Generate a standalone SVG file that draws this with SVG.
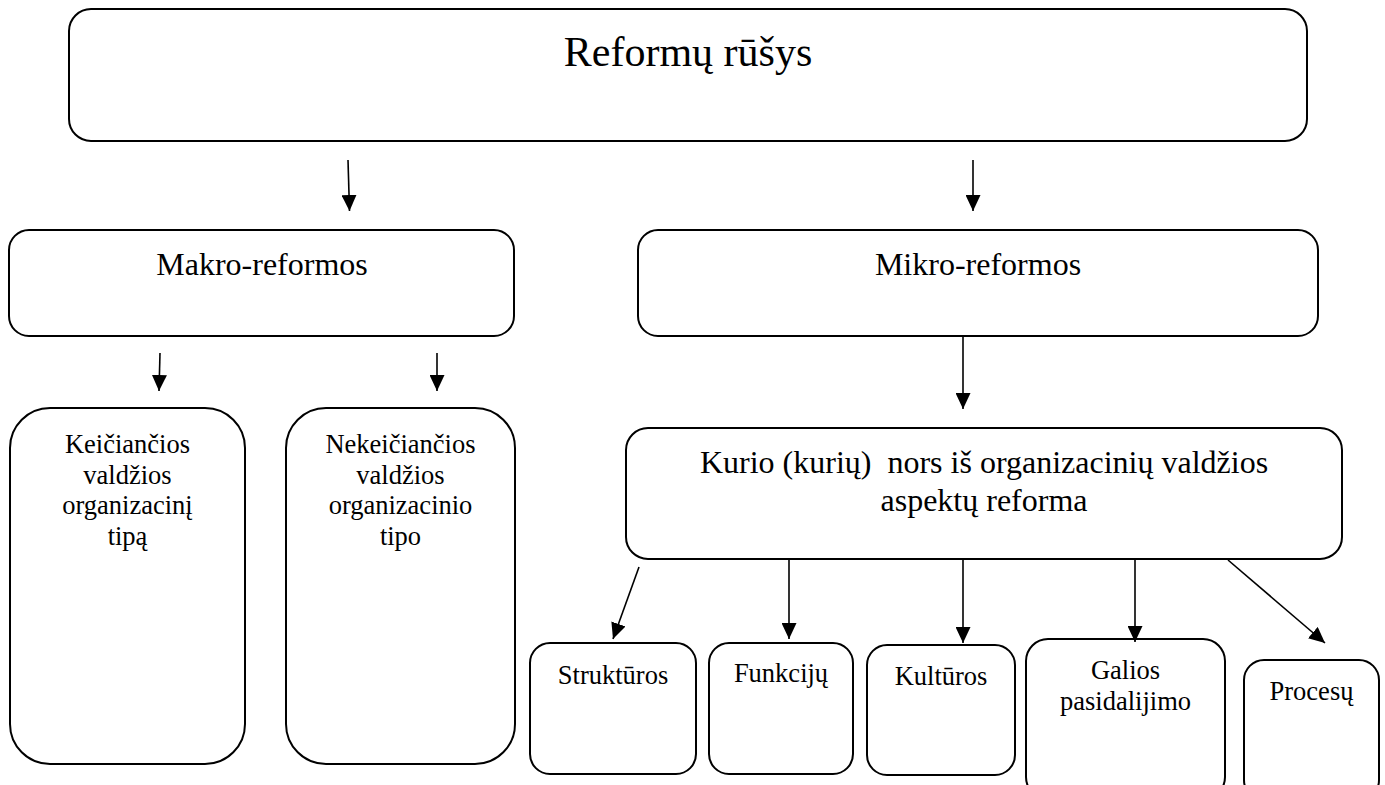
<svg xmlns="http://www.w3.org/2000/svg" width="1385" height="785" viewBox="0 0 1385 785">
  <style>
    .box { fill: #fff; stroke: #000; stroke-width: 2; }
    .lbl { font-family: "Liberation Serif", "Times New Roman", serif; fill: #000; text-anchor: middle; white-space: pre; }
    .t42 { font-size: 42px; }
    .t32 { font-size: 32px; }
    .t26 { font-size: 26.5px; }
    .conn line { stroke: #000; stroke-width: 1.6; marker-end: url(#arrow); }
  </style>
  <defs>
    <marker id="arrow" markerUnits="userSpaceOnUse" markerWidth="16" markerHeight="15" refX="16" refY="7.5" orient="auto">
      <path d="M0,0 L16,7.5 L0,15 Z" fill="#000"/>
    </marker>
  </defs>
  <rect width="1385" height="785" fill="#fff"/>

  <!-- root -->
  <g id="node-reformu-rusys">
    <rect class="box" x="69" y="9" width="1238" height="132" rx="22" ry="22"/>
    <text class="lbl t42" x="688" y="66">Reformų rūšys</text>
  </g>

  <!-- second level -->
  <g id="node-makro">
    <rect class="box" x="9" y="230" width="505" height="106" rx="20" ry="20"/>
    <text class="lbl t32" x="262" y="275">Makro-reformos</text>
  </g>
  <g id="node-mikro">
    <rect class="box" x="638" y="230" width="680" height="106" rx="20" ry="20"/>
    <text class="lbl t32" x="978" y="275">Mikro-reformos</text>
  </g>

  <!-- makro children -->
  <g id="node-keicianciu">
    <rect class="box" x="10" y="408" width="235" height="356" rx="40" ry="40"/>
    <text class="lbl t26" x="127.5" y="453">Keičiančios</text>
    <text class="lbl t26" x="127.5" y="483.5">valdžios</text>
    <text class="lbl t26" x="127.5" y="514">organizacinį</text>
    <text class="lbl t26" x="127.5" y="544.5">tipą</text>
  </g>
  <g id="node-nekeicianciu">
    <rect class="box" x="286" y="408" width="229" height="356" rx="40" ry="40"/>
    <text class="lbl t26" x="400.5" y="453">Nekeičiančios</text>
    <text class="lbl t26" x="400.5" y="483.5">valdžios</text>
    <text class="lbl t26" x="400.5" y="514">organizacinio</text>
    <text class="lbl t26" x="400.5" y="544.5">tipo</text>
  </g>

  <!-- mikro child -->
  <g id="node-aspektu">
    <rect class="box" x="626" y="428" width="716" height="131" rx="22" ry="22"/>
    <text class="lbl t32" x="984" y="473">Kurio (kurių)  nors iš organizacinių valdžios</text>
    <text class="lbl t32" x="984" y="511">aspektų reforma</text>
  </g>

  <!-- aspects -->
  <g id="node-strukturos">
    <rect class="box" x="530" y="643" width="166" height="131" rx="20" ry="20"/>
    <text class="lbl t26" x="613" y="684">Struktūros</text>
  </g>
  <g id="node-funkciju">
    <rect class="box" x="709" y="643" width="144" height="131" rx="20" ry="20"/>
    <text class="lbl t26" x="781" y="682">Funkcijų</text>
  </g>
  <g id="node-kulturos">
    <rect class="box" x="867" y="645" width="148" height="130" rx="20" ry="20"/>
    <text class="lbl t26" x="941" y="685">Kultūros</text>
  </g>
  <g id="node-galios">
    <rect class="box" x="1026" y="639" width="199" height="160" rx="22" ry="22"/>
    <text class="lbl t26" x="1125.5" y="679">Galios</text>
    <text class="lbl t26" x="1125.5" y="710">pasidalijimo</text>
  </g>
  <g id="node-procesu">
    <rect class="box" x="1244" y="660" width="135" height="140" rx="20" ry="20"/>
    <text class="lbl t26" x="1311.5" y="700">Procesų</text>
  </g>

  <!-- connectors -->
  <g id="connectors" class="conn">
    <line x1="348" y1="160" x2="349.5" y2="211"/>
    <line x1="973" y1="160" x2="973" y2="211"/>
    <line x1="160" y1="353" x2="159" y2="391"/>
    <line x1="437" y1="353" x2="437" y2="391"/>
    <line x1="963" y1="336" x2="963" y2="409"/>
    <line x1="639" y1="567" x2="613" y2="639"/>
    <line x1="789" y1="559" x2="789" y2="639"/>
    <line x1="963" y1="559" x2="963" y2="643"/>
    <line x1="1135" y1="559" x2="1135" y2="642"/>
    <line x1="1228" y1="560" x2="1325" y2="643"/>
  </g>
</svg>
